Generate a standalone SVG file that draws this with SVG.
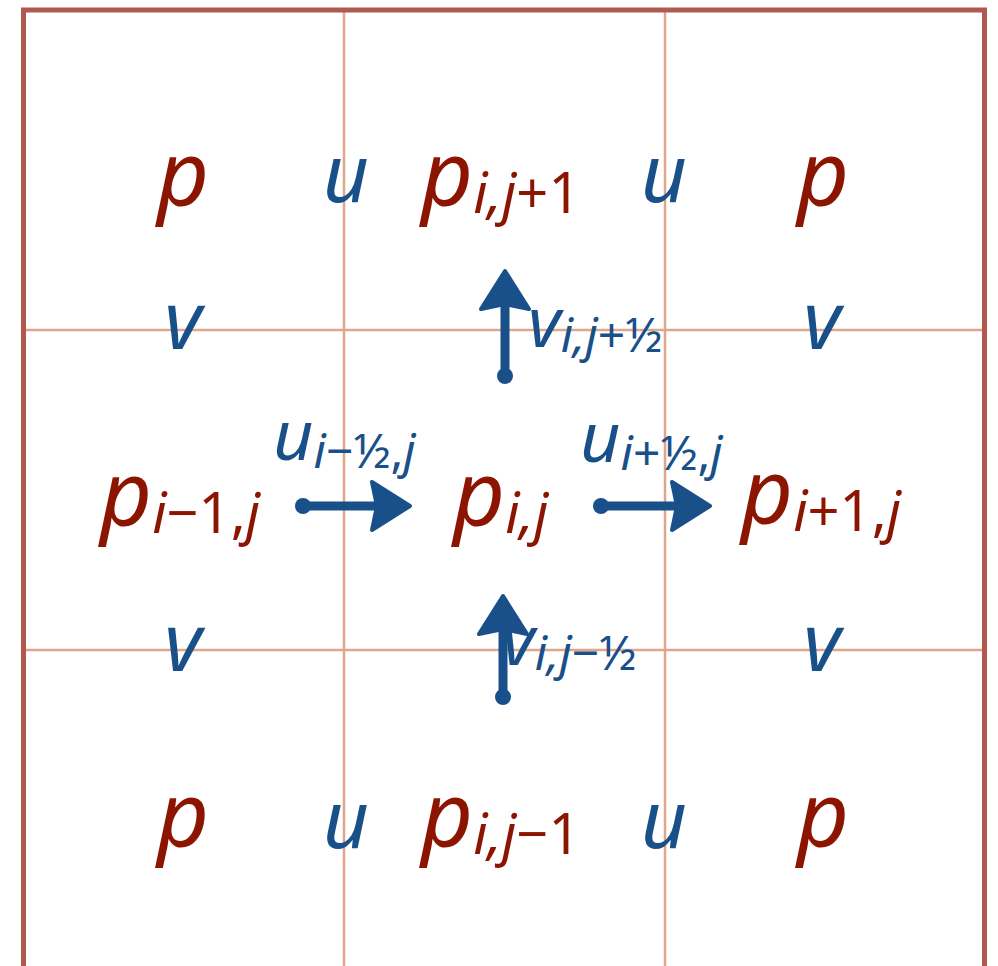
<svg xmlns="http://www.w3.org/2000/svg" width="998" height="966" viewBox="0 0 998 966">
<style>
text{font-family:"Noto Sans","Open Sans",sans-serif;font-style:italic}
.r{fill:#8b1500;font-size:90px}
.b{fill:#19508a;font-size:80px}
.bl{fill:#19508a;font-size:70px}
.s{font-size:56px}
.sl{font-size:48px}
.n{font-style:normal}
.grid{stroke:#dfa68b;stroke-width:2.5;fill:none}
.frame{stroke:#b05a4f;stroke-width:5;fill:none}
.arr{stroke:#19508a;stroke-width:9;fill:none;marker-start:url(#dot);marker-end:url(#head)}
</style>
<defs>
<marker id="head" markerUnits="userSpaceOnUse" viewBox="-4 -30 48 60" markerWidth="48" markerHeight="60" refX="4" refY="0" orient="auto">
<path d="M0,-24 L38,0 L0,24 L5,0 Z" fill="#19508a" stroke="#19508a" stroke-width="4" stroke-linejoin="round"/>
</marker>
<marker id="dot" markerUnits="userSpaceOnUse" viewBox="-10 -10 20 20" markerWidth="20" markerHeight="20" refX="0" refY="0" orient="auto">
<circle r="8" fill="#19508a"/>
</marker>
</defs>
<rect width="998" height="966" fill="#ffffff"/>
<g id="grid">
<line class="grid" x1="344" y1="10" x2="344" y2="966"/>
<line class="grid" x1="665" y1="10" x2="665" y2="966"/>
<line class="grid" x1="23" y1="330" x2="985" y2="330"/>
<line class="grid" x1="23" y1="650" x2="985" y2="650"/>
<rect class="frame" x="23.5" y="10" width="961" height="1000"/>
</g>
<g id="connectors">
<path class="arr" d="M505,376 L505,305"/>
<path class="arr" d="M503,697 L503,630"/>
<path class="arr" d="M303,506 L376,506"/>
<path class="arr" d="M601,506 L676,506"/>
</g>
<g id="row1">
<text id="p-tl" class="r" x="183" y="205" text-anchor="middle">p</text>
<text id="u-t1" class="b" x="346" y="202" text-anchor="middle">u</text>
<text id="p-ij1" class="r" x="421" y="205">p<tspan class="s" dy="8">i,j</tspan><tspan class="s n">+1</tspan></text>
<text id="u-t2" class="b" x="664" y="202" text-anchor="middle">u</text>
<text id="p-tr" class="r" x="823" y="205" text-anchor="middle">p</text>
</g>
<g id="row2">
<text id="v-l1" class="b" x="183" y="349" text-anchor="middle">v</text>
<text id="v-ij12" class="bl" x="528" y="347">v<tspan class="sl" dy="5">i,j</tspan><tspan class="sl n">+½</tspan></text>
<text id="v-r1" class="b" x="822" y="349" text-anchor="middle">v</text>
</g>
<g id="row3">
<text id="p-im1" class="r" x="100" y="525">p<tspan class="s" dy="8">i</tspan><tspan class="s n">−1,</tspan><tspan class="s">j</tspan></text>
<text id="u-im12" class="bl" x="273" y="460">u<tspan class="sl" dy="8">i</tspan><tspan class="sl n">−½,</tspan><tspan class="sl">j</tspan></text>
<text id="p-ij" class="r" x="453" y="525">p<tspan class="s" dy="8">i,j</tspan></text>
<text id="u-ip12" class="bl" x="580" y="462">u<tspan class="sl" dy="8">i</tspan><tspan class="sl n">+½,</tspan><tspan class="sl">j</tspan></text>
<text id="p-ip1" class="r" x="741" y="523">p<tspan class="s" dy="8">i</tspan><tspan class="s n">+1,</tspan><tspan class="s">j</tspan></text>
</g>
<g id="row4">
<text id="v-l2" class="b" x="183" y="671" text-anchor="middle">v</text>
<text id="v-ijm12" class="bl" x="502" y="665">v<tspan class="sl" dy="5">i,j</tspan><tspan class="sl n">−½</tspan></text>
<text id="v-r2" class="b" x="822" y="671" text-anchor="middle">v</text>
</g>
<g id="row5">
<text id="p-bl" class="r" x="183" y="846" text-anchor="middle">p</text>
<text id="u-b1" class="b" x="346" y="848" text-anchor="middle">u</text>
<text id="p-ijm1" class="r" x="421" y="846">p<tspan class="s" dy="8">i,j</tspan><tspan class="s n">−1</tspan></text>
<text id="u-b2" class="b" x="664" y="848" text-anchor="middle">u</text>
<text id="p-br" class="r" x="823" y="846" text-anchor="middle">p</text>
</g>
</svg>
